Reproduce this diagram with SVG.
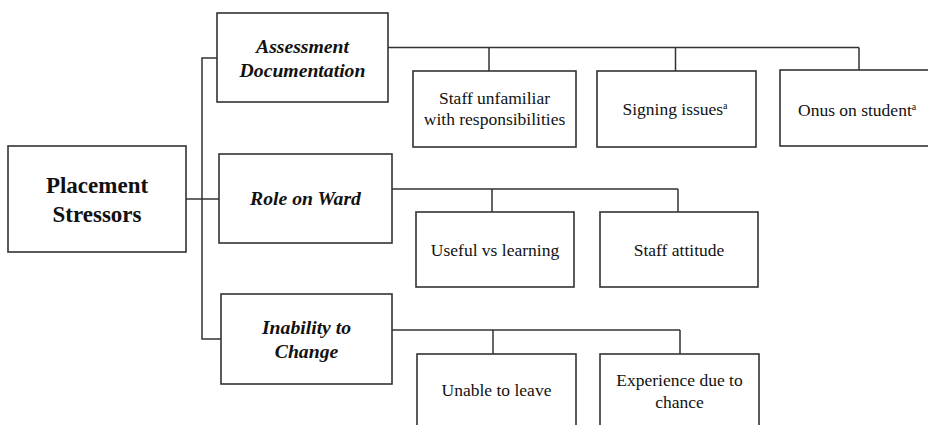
<svg xmlns="http://www.w3.org/2000/svg" width="928" height="425" viewBox="0 0 928 425">
<style>
.box{fill:#fff;stroke:#333;stroke-width:1.6}
.ln{fill:none;stroke:#333;stroke-width:1.5}
text{font-family:'Liberation Serif','Tinos','DejaVu Serif',serif;fill:#111;text-anchor:middle}
.root{font-size:23px;font-weight:bold}
.cat{font-size:19.7px;font-weight:bold;font-style:italic}
.leaf{font-size:17.5px}
.sup{font-size:10px}
</style>
<rect width="928" height="425" fill="#fff"/>
<g id="connectors">
<path class="ln" d="M186,199 H219"/>
<path class="ln" d="M217,58 H202 V339 H221"/>
<path class="ln" d="M388,47.5 H859 M489,47.5 V71 M675.5,47.5 V71 M859,47.5 V70"/>
<path class="ln" d="M392,189 H678 M492,189 V212 M678,189 V212"/>
<path class="ln" d="M392,330 H680 M493,330 V354 M680,330 V354"/>
</g>
<g id="placement-stressors">
<rect class="box" x="8" y="146" width="178" height="106"/>
<text class="root" x="97" y="193">Placement</text>
<text class="root" x="97" y="222">Stressors</text>
</g>
<g id="assessment-documentation">
<rect class="box" x="217" y="13" width="171" height="89"/>
<text class="cat" x="302.5" y="53">Assessment</text>
<text class="cat" x="302.5" y="77">Documentation</text>
</g>
<g id="role-on-ward">
<rect class="box" x="219" y="154" width="173" height="89"/>
<text class="cat" x="305.5" y="205">Role on Ward</text>
</g>
<g id="inability-to-change">
<rect class="box" x="221" y="294" width="171" height="90"/>
<text class="cat" x="306.5" y="334">Inability to</text>
<text class="cat" x="306.5" y="358">Change</text>
</g>
<g id="staff-unfamiliar">
<rect class="box" x="413" y="71" width="163" height="76"/>
<text class="leaf" x="494.5" y="104">Staff unfamiliar</text>
<text class="leaf" x="494.5" y="125">with responsibilities</text>
</g>
<g id="signing-issues">
<rect class="box" x="597" y="71" width="159" height="76"/>
<text class="leaf" x="675" y="115">Signing issues<tspan class="sup" dy="-6">a</tspan></text>
</g>
<g id="onus-on-student">
<rect class="box" x="780" y="70" width="160" height="76"/>
<text class="leaf" x="798" y="116" style="text-anchor:start">Onus on student<tspan class="sup" dy="-6">a</tspan></text>
</g>
<g id="useful-vs-learning">
<rect class="box" x="416" y="212" width="158" height="75"/>
<text class="leaf" x="495" y="256">Useful vs learning</text>
</g>
<g id="staff-attitude">
<rect class="box" x="600" y="212" width="158" height="75"/>
<text class="leaf" x="679" y="256">Staff attitude</text>
</g>
<g id="unable-to-leave">
<rect class="box" x="417" y="354" width="159" height="90"/>
<text class="leaf" x="496.5" y="396">Unable to leave</text>
</g>
<g id="experience-due-to-chance">
<rect class="box" x="600" y="354" width="159" height="90"/>
<text class="leaf" x="679.5" y="386">Experience due to</text>
<text class="leaf" x="679.5" y="408">chance</text>
</g>
</svg>
